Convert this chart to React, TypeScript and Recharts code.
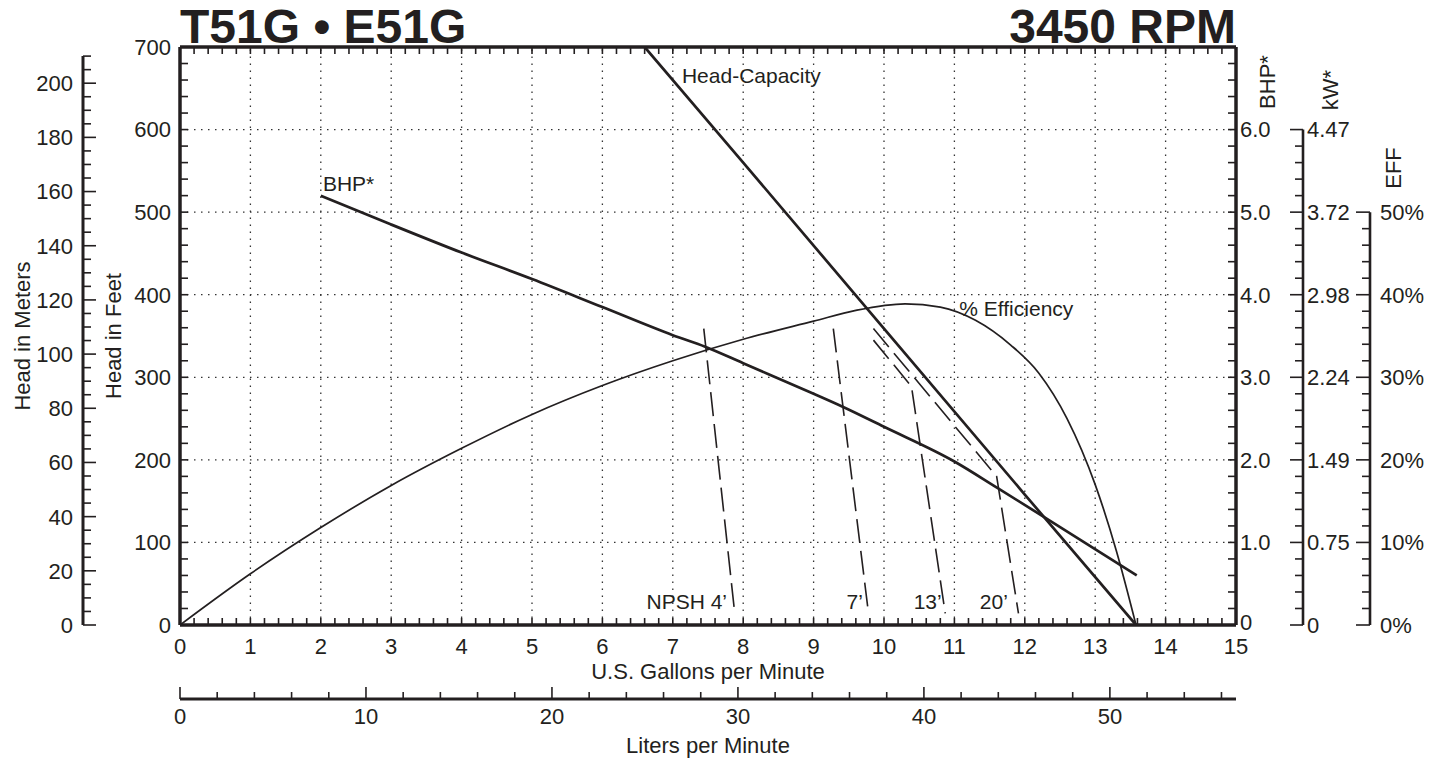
import React from "react";
import { ComposedChart, Line, XAxis, YAxis, ReferenceLine, ReferenceDot } from "recharts";

const FONT = '"Liberation Sans", Arial, Helvetica, sans-serif';
const INK = "#231f20";
const LITERS_PER_GALLON = 3.78541;

// Head-capacity (U.S. gpm -> feet)
const hcGpm = [6.6, 8, 10, 12, 13.58];
const hcFeet = [700, 560, 359, 158, 0];

// Brake horsepower (U.S. gpm -> BHP)
const bhpGpm = [2, 3, 4, 5, 6, 7, 7.46, 8, 9, 9.42, 10, 11, 11.61, 12.27, 13.59];
const bhpValues = [5.2, 4.85, 4.51, 4.19, 3.85, 3.51, 3.37, 3.17, 2.8, 2.64, 2.4, 1.98, 1.66, 1.31, 0.6];

// Efficiency (U.S. gpm -> %)
const effGpm = [0, 1, 2, 3, 4, 5, 6, 7, 8, 9, 9.6, 10.3, 10.8, 11.3, 11.8, 12.2, 12.6, 13, 13.3, 13.58];
const effValues = [0, 6.2, 11.8, 16.9, 21.4, 25.5, 29.0, 32.0, 34.6, 36.8, 38.1, 38.9, 38.5, 36.9, 33.9, 30.5, 25.0, 17.0, 9.0, 0];

// NPSH required lines (U.S. gpm -> feet)
const npsh4Gpm = [7.44, 7.88];
const npsh4Feet = [359, 14];
const npsh7Gpm = [9.28, 9.78];
const npsh7Feet = [359, 14];
const npsh13Gpm = [9.85, 10.39, 10.87];
const npsh13Feet = [345, 289, 14];
const npsh20Gpm = [9.85, 11.6, 11.91];
const npsh20Feet = [359, 180, 14];

const kwLabels = ["0", "0.75", "1.49", "2.24", "2.98", "3.72", "4.47"];

const curveLabels = [
  { text: "Head-Capacity", gpm: 7.13, feet: 666, anchor: "start" },
  { text: "BHP*", gpm: 2.03, feet: 535, anchor: "start" },
  { text: "% Efficiency", gpm: 11.07, feet: 383, anchor: "start" },
  { text: "NPSH 4\u2019", gpm: 7.77, feet: 28, anchor: "end" },
  { text: "7\u2019", gpm: 9.7, feet: 28, anchor: "end" },
  { text: "13\u2019", gpm: 10.82, feet: 28, anchor: "end" },
  { text: "20\u2019", gpm: 11.76, feet: 28, anchor: "end" },
];

const zip = (xs: number[], ys: number[]) => xs.map((x, i) => ({ x, y: ys[i] }));

const steps = (stop: number, step: number) => {
  const out: number[] = [];
  for (let i = 0; i * step <= stop + 1e-9; i++) out.push(Math.round(i * step * 1000) / 1000);
  return out;
};
const isMult = (v: number, m: number) => Math.abs(v / m - Math.round(v / m)) < 1e-6;

const PLOT_H = 578;
const tickText = { fontFamily: FONT, fontSize: 22, fill: INK };

function FeetTick({ x, y, payload }: any) {
  const v = payload.value;
  return (
    <g>
      <line x1={x} x2={x + 8} y1={y} y2={y} stroke={INK} strokeWidth={1.6} />
      {isMult(v, 100) && (
        <text x={x - 9} y={y} dy="0.36em" textAnchor="end" style={tickText}>{v}</text>
      )}
    </g>
  );
}

function MeterTick({ x, y, payload }: any) {
  const v = payload.value;
  const major = isMult(v, 20);
  return (
    <g>
      <line x1={x} x2={x + (major ? 13 : 8)} y1={y} y2={y} stroke={INK} strokeWidth={1.6} />
      {major && (
        <text x={x - 10} y={y} dy="0.36em" textAnchor="end" style={tickText}>{v}</text>
      )}
    </g>
  );
}

function BhpTick({ x, y, payload }: any) {
  const v = payload.value;
  return (
    <g>
      <line x1={x - 8} x2={x} y1={y} y2={y} stroke={INK} strokeWidth={1.6} />
      {isMult(v, 1) && v <= 6 && (
        <text x={x + 4} y={v === 0 ? y - 3 : y} dy="0.36em" style={tickText}>{v === 0 ? "0" : v.toFixed(1)}</text>
      )}
    </g>
  );
}

function KwTick({ x, y, payload }: any) {
  const v = payload.value;
  const major = isMult(v, 1);
  return (
    <g>
      <line x1={x - (major ? 13 : 8)} x2={x} y1={y} y2={y} stroke={INK} strokeWidth={1.6} />
      {major && (
        <text x={x + 4} y={y} dy="0.36em" style={tickText}>{kwLabels[Math.round(v)]}</text>
      )}
    </g>
  );
}

function EffTick({ x, y, payload }: any) {
  const v = payload.value;
  const major = isMult(v, 10);
  return (
    <g>
      <line x1={x - (major ? 14 : 8)} x2={x} y1={y} y2={y} stroke={INK} strokeWidth={1.6} />
      {major && (
        <text x={x + 10} y={y} dy="0.36em" style={tickText}>{`${v}%`}</text>
      )}
    </g>
  );
}

function GpmTick({ x, y, payload }: any) {
  const v = payload.value;
  return (
    <g>
      <line x1={x} x2={x} y1={y - 7} y2={y} stroke={INK} strokeWidth={1.6} />
      {isMult(v, 1) && (
        <text x={x} y={y + 21} dy="0.36em" textAnchor="middle" style={tickText}>{v}</text>
      )}
    </g>
  );
}

function TopTick({ x, y }: any) {
  return <line x1={x} x2={x} y1={y} y2={y + 7} stroke={INK} strokeWidth={1.6} />;
}

function LpmTick({ x, y, payload }: any) {
  const v = payload.value;
  const major = isMult(v, 10);
  return (
    <g>
      <line x1={x} x2={x} y1={y - (major ? 12 : 7)} y2={y} stroke={INK} strokeWidth={1.6} />
      {major && (
        <text x={x} y={y + 17} dy="0.36em" textAnchor="middle" style={tickText}>{v}</text>
      )}
    </g>
  );
}

// rotated axis title, placed relative to the axis box
const vTitle = (text: string, dx: number, dy?: number) => (props: any) => {
  const vb = props.viewBox;
  const cx = vb.x + dx;
  const cy = dy == null ? vb.y + vb.height / 2 : vb.y + dy;
  return (
    <text x={cx} y={cy} dy="0.36em" textAnchor="middle" transform={`rotate(-90 ${cx} ${cy})`} style={tickText}>
      {text}
    </text>
  );
};

const hTitle = (text: string, dy: number) => (props: any) => {
  const vb = props.viewBox;
  return (
    <text x={vb.x + vb.width / 2} y={vb.y + dy} dy="0.36em" textAnchor="middle" style={tickText}>
      {text}
    </text>
  );
};

const headerTitle = (props: any) => {
  const vb = props.viewBox;
  const st = { fontFamily: FONT, fontSize: 48, fontWeight: 700, fill: INK };
  return (
    <g>
      <text x={vb.x} y={vb.y + 6} style={st}>T51G • E51G</text>
      <text x={vb.x + vb.width} y={vb.y + 6} textAnchor="end" style={st}>3450 RPM</text>
    </g>
  );
};

const curveLabel = (text: string, anchor: string) => (props: any) => {
  const vb = props.viewBox;
  return (
    <text x={vb.x} y={vb.y} dy="0.36em" textAnchor={anchor} style={{ fontFamily: FONT, fontSize: 21, fill: INK }}>
      {text}
    </text>
  );
};

const frame = { stroke: INK, strokeWidth: 3.5 };
const grid = { stroke: "#333", strokeWidth: 1.3, strokeDasharray: "1.5 5.5" };
const dash = "24 8";

export default function App() {
  const gpmTicks = steps(15, 0.2);
  const lpmTicks = steps(56, 2);
  const hcLiters = hcGpm.map((g) => g * LITERS_PER_GALLON);
  return (
    <div style={{ position: "absolute", left: 0, top: 0, width: 1448, height: 761, background: "#fff" }}>
      <ComposedChart width={1448} height={761} margin={{ top: 37, right: 0, bottom: 0, left: 0 }}>
        <XAxis
          xAxisId="gpm" dataKey="x" type="number" domain={[0, 15]} allowDataOverflow
          ticks={gpmTicks} interval={0} height={74} tickSize={0} tickMargin={0}
          tickLine={false} axisLine={frame} tick={<GpmTick />}
          label={hTitle("U.S. Gallons per Minute", 46)}
        />
        <XAxis
          xAxisId="lpm" dataKey="x" type="number" domain={[0, 15 * LITERS_PER_GALLON]} allowDataOverflow
          ticks={lpmTicks} interval={0} height={62} tickSize={0} tickMargin={0}
          tickLine={false} axisLine={{ stroke: INK, strokeWidth: 3 }} tick={<LpmTick />}
          label={hTitle("Liters per Minute", 46)}
        />
        <XAxis
          xAxisId="top" dataKey="x" orientation="top" type="number" domain={[0, 15]} allowDataOverflow
          ticks={gpmTicks} interval={0} height={10} tickSize={0} tickMargin={0}
          tickLine={false} axisLine={frame} tick={<TopTick />}
          label={headerTitle}
        />
        <YAxis
          yAxisId="a_ft" type="number" domain={[0, 700]} allowDataOverflow
          ticks={steps(700, 20)} interval={0} width={97} tickSize={0} tickMargin={0}
          tickLine={false} axisLine={frame} tick={<FeetTick />}
          label={vTitle("Head in Feet", 30)}
        />
        <YAxis
          yAxisId="b_m" type="number" domain={[0, 700 * 0.3048]} allowDataOverflow
          ticks={steps(210, 5)} interval={0} width={83} tickSize={0} tickMargin={0}
          tickLine={false} axisLine={{ stroke: INK, strokeWidth: 3, strokeDasharray: "0 9 700" }}
          tick={<MeterTick />}
          label={vTitle("Head in Meters", 22)}
        />
        <YAxis
          yAxisId="c_bhp" orientation="right" type="number" domain={[0, 7]} allowDataOverflow
          ticks={steps(7, 0.2)} interval={0} width={67} tickSize={0} tickMargin={0}
          tickLine={false} axisLine={frame} tick={<BhpTick />}
          label={vTitle("BHP*", 31, 35)}
        />
        <YAxis
          yAxisId="d_kw" orientation="right" type="number" domain={[0, 7]} allowDataOverflow
          ticks={steps(6, 0.2)} interval={0} width={67} tickSize={0} tickMargin={0}
          tickLine={false}
          axisLine={{ stroke: INK, strokeWidth: 2.6, strokeDasharray: `0 ${PLOT_H / 7} 700` }}
          tick={<KwTick />}
          label={vTitle("kW*", 27, 43)}
        />
        <YAxis
          yAxisId="e_eff" orientation="right" type="number" domain={[0, 70]} allowDataOverflow
          ticks={steps(50, 2)} interval={0} width={78} tickSize={0} tickMargin={0}
          tickLine={false}
          axisLine={{ stroke: INK, strokeWidth: 2.6, strokeDasharray: `0 ${(PLOT_H * 2) / 7} 700` }}
          tick={<EffTick />}
          label={vTitle("EFF", 23, 121)}
        />

        {steps(14, 1).slice(1).map((g) => (
          <ReferenceLine key={`vx${g}`} xAxisId="gpm" yAxisId="a_ft" x={g} {...grid} />
        ))}
        {steps(600, 100).slice(1).map((f) => (
          <ReferenceLine key={`hy${f}`} xAxisId="gpm" yAxisId="a_ft" y={f} {...grid} />
        ))}

        {/* invisible copies so the top and liters scales get their ticks */}
        <Line xAxisId="top" yAxisId="a_ft" data={zip(hcGpm, hcFeet)} dataKey="y" stroke="none"
          dot={false} activeDot={false} isAnimationActive={false} />
        <Line xAxisId="lpm" yAxisId="a_ft" data={zip(hcLiters, hcFeet)} dataKey="y" stroke="none"
          dot={false} activeDot={false} isAnimationActive={false} />

        <Line xAxisId="gpm" yAxisId="e_eff" data={zip(effGpm, effValues)} dataKey="y" type="monotone"
          stroke={INK} strokeWidth={1.7} dot={false} activeDot={false} isAnimationActive={false} />
        <Line xAxisId="gpm" yAxisId="a_ft" data={zip(npsh4Gpm, npsh4Feet)} dataKey="y" type="linear"
          stroke={INK} strokeWidth={1.6} strokeDasharray={dash} dot={false} activeDot={false} isAnimationActive={false} />
        <Line xAxisId="gpm" yAxisId="a_ft" data={zip(npsh7Gpm, npsh7Feet)} dataKey="y" type="linear"
          stroke={INK} strokeWidth={1.6} strokeDasharray={dash} dot={false} activeDot={false} isAnimationActive={false} />
        <Line xAxisId="gpm" yAxisId="a_ft" data={zip(npsh13Gpm, npsh13Feet)} dataKey="y" type="linear"
          stroke={INK} strokeWidth={1.6} strokeDasharray={dash} dot={false} activeDot={false} isAnimationActive={false} />
        <Line xAxisId="gpm" yAxisId="a_ft" data={zip(npsh20Gpm, npsh20Feet)} dataKey="y" type="linear"
          stroke={INK} strokeWidth={1.6} strokeDasharray={dash} dot={false} activeDot={false} isAnimationActive={false} />
        <Line xAxisId="gpm" yAxisId="c_bhp" data={zip(bhpGpm, bhpValues)} dataKey="y" type="monotone"
          stroke={INK} strokeWidth={2.7} dot={false} activeDot={false} isAnimationActive={false} />
        <Line xAxisId="gpm" yAxisId="a_ft" data={zip(hcGpm, hcFeet)} dataKey="y" type="linear"
          stroke={INK} strokeWidth={2.7} dot={false} activeDot={false} isAnimationActive={false} />

        {curveLabels.map((c) => (
          <ReferenceDot key={c.text} xAxisId="gpm" yAxisId="a_ft" x={c.gpm} y={c.feet} r={0}
            fill="none" stroke="none" ifOverflow="visible" label={curveLabel(c.text, c.anchor)} />
        ))}
      </ComposedChart>
    </div>
  );
}
